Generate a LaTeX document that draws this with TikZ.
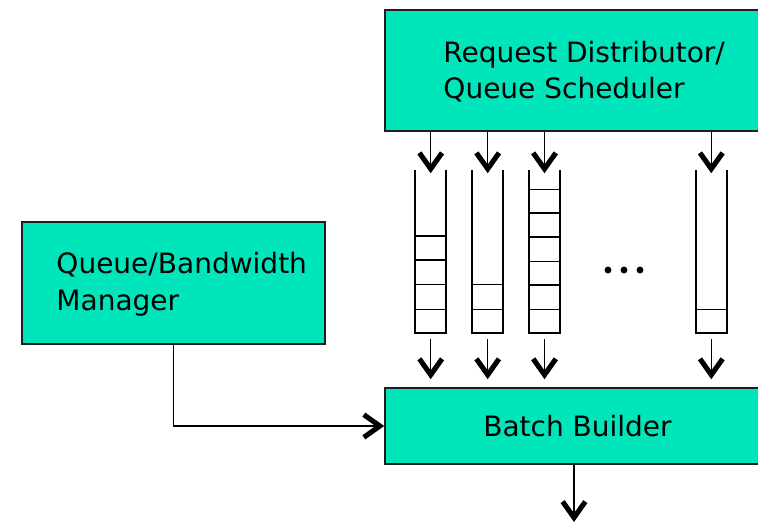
\documentclass[tikz,border=0pt]{standalone}
\usepackage{fontspec}
\setmainfont{DejaVu Sans}
\usetikzlibrary{arrows.meta,calc}
\definecolor{boxfill}{RGB}{0,229,185}
\definecolor{boxline}{RGB}{30,30,30}
\begin{document}
\begin{tikzpicture}[x=0.75pt,y=-0.75pt,
  box/.style={draw=boxline,line width=1.2pt,fill=boxfill,rectangle,inner sep=0pt},
  lbl/.style={font=\fontsize{21pt}{27.5pt}\selectfont,align=left,inner sep=0pt,anchor=west},
  arr/.style={line width=1.1pt,-{Straight Barb[length=12pt,width=17pt,line width=3.8pt]}},
  qwall/.style={line width=1.5pt},
  qcell/.style={line width=1.2pt},
  queue/.style={rectangle,minimum width=22.5pt,minimum height=121.5pt,inner sep=0pt}]
\useasboundingbox (0,0) rectangle (758,522);
\clip (0,0) rectangle (758,522);
% boxes
\node[box,minimum width=288.75pt,minimum height=90.75pt] (rd) at (577.5,70.5) {};
\node[lbl] (rdtext) at ($(rd.west)+(59,1)$) {Request Distributor/\\Queue Scheduler};
\node[box,minimum width=227.25pt,minimum height=91.5pt] (qb) at (173.5,283) {};
\node[lbl] (qbtext) at ($(qb.west)+(35,1)$) {Queue/Bandwidth\\Manager};
\node[box,minimum width=288.75pt,minimum height=57pt,font=\fontsize{21pt}{27.5pt}\selectfont] (bb) at (577.5,426) {Batch Builder};
% queues
\node[queue] (q1) at (430.7,251.5) {};
\node[queue] (q2) at (487.7,251.5) {};
\node[queue] (q3) at (544.5,251.5) {};
\node[queue] (q4) at (711.3,251.5) {};
\foreach \q in {q1,q2,q3,q4}{
  \draw[qwall] (\q.north west) -- (\q.south west) -- (\q.south east) -- (\q.north east);
}
\foreach \y in {236,260,284.3,309.3}{\draw[qcell] (q1.west |- 0,\y) -- (q1.east |- 0,\y);}
\foreach \y in {284.3,309.3}{\draw[qcell] (q2.west |- 0,\y) -- (q2.east |- 0,\y);}
\foreach \y in {189.3,212.7,236.7,261.3,285,309.3}{\draw[qcell] (q3.west |- 0,\y) -- (q3.east |- 0,\y);}
\draw[qcell] (q4.west |- 0,309.3) -- (q4.east |- 0,309.3);
% dots
\foreach \x/\n in {608/d1,624/d2,640/d3}{\node[circle,fill=black,inner sep=0pt,minimum size=5.2pt] (\n) at (\x,270) {};}
% arrows into queues and out of queues
\foreach \q in {q1,q2,q3,q4}{
  \draw[arr] (\q.north |- rd.south) -- ($(\q.north)+(0,3)$);
  \draw[arr] ($(\q.south)+(0,6)$) -- ($(\q.south |- bb.north)+(0,-8)$);
}
% manager to batch builder
\draw[arr] (qb.south) |- (bb.west);
% output
\coordinate (out) at (574,522);
\draw[arr] (bb.south -| out) -- (out);
\end{tikzpicture}
\end{document}
